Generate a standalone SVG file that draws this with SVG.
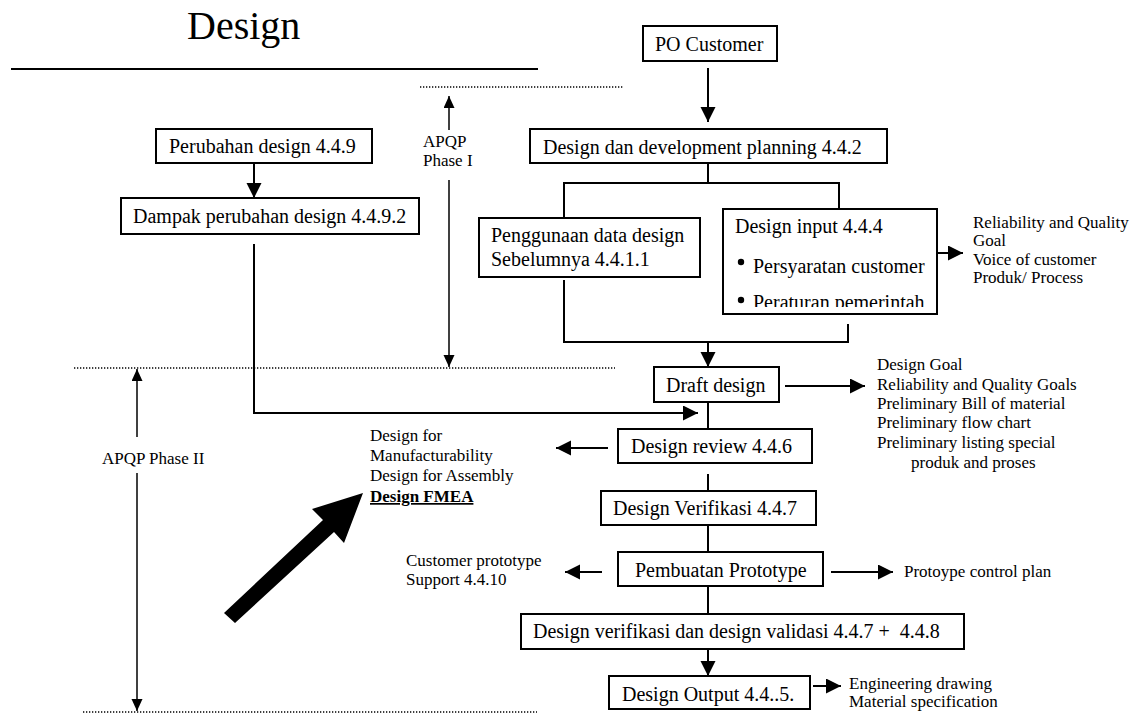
<svg xmlns="http://www.w3.org/2000/svg" width="1140" height="713" viewBox="0 0 1140 713">
  <style>
    .box { fill: #fff; stroke: #000; stroke-width: 2; }
    .t { font-family: "Liberation Serif", "Times New Roman", serif; font-size: 20px; fill: #000; }
    .s { font-family: "Liberation Serif", "Times New Roman", serif; font-size: 17px; fill: #000; }
    .ln { fill: none; stroke: #000; stroke-width: 2; }
    .thin { fill: none; stroke: #000; stroke-width: 1.5; }
    .dot { fill: none; stroke: #000; stroke-width: 1.3; stroke-dasharray: 1.3 1.7; }
  </style>
  <defs>
    <marker id="ah" markerUnits="userSpaceOnUse" markerWidth="16" markerHeight="16" refX="15" refY="7.5" orient="auto">
      <path d="M0,0 L15,7.5 L0,15 z" fill="#000"/>
    </marker>
    <marker id="ahs" markerUnits="userSpaceOnUse" markerWidth="13" markerHeight="12" refX="12" refY="5.5" orient="auto">
      <path d="M0,0 L12,5.5 L0,11 z" fill="#000"/>
    </marker>
    <clipPath id="inputClip">
      <rect x="724" y="210" width="212" height="97"/>
    </clipPath>
  </defs>

  <!-- title -->
  <g id="title">
    <text x="187" y="39" font-family="Liberation Serif, serif" font-size="40">Design</text>
    <line x1="11" y1="69" x2="538" y2="69" stroke="#000" stroke-width="2"/>
  </g>

  <!-- phase boundaries and phase markers -->
  <g id="phases">
    <line class="dot" x1="420" y1="87" x2="623" y2="87"/>
    <line class="dot" x1="74" y1="368" x2="615" y2="368"/>
    <line class="dot" x1="83" y1="712" x2="537" y2="712"/>
    <line class="thin" x1="449" y1="130" x2="449" y2="96" marker-end="url(#ahs)"/>
    <text class="s" x="423" y="147">APQP</text>
    <text class="s" x="423" y="166">Phase I</text>
    <line class="thin" x1="449" y1="180" x2="449" y2="367" marker-end="url(#ahs)"/>
    <line class="thin" x1="137" y1="437" x2="137" y2="369" marker-end="url(#ahs)"/>
    <text class="s" x="102" y="464">APQP Phase II</text>
    <line class="thin" x1="137" y1="473" x2="137" y2="711" marker-end="url(#ahs)"/>
  </g>

  <!-- connectors -->
  <g id="connectors">
    <line class="ln" x1="708" y1="68" x2="708" y2="122" marker-end="url(#ah)"/>
    <polyline class="ln" points="708,163 708,183"/>
    <polyline class="ln" points="564,218 564,183 839,183 839,209"/>
    <line class="ln" x1="254" y1="163" x2="254" y2="198" marker-end="url(#ah)"/>
    <polyline class="ln" points="254,244 254,413 698,413" marker-end="url(#ah)"/>
    <polyline class="ln" points="564,280 564,342 848,342 848,324"/>
    <line class="ln" x1="708" y1="342" x2="708" y2="367" marker-end="url(#ah)"/>
    <line class="ln" x1="937" y1="253" x2="963" y2="253" marker-end="url(#ah)"/>
    <line class="ln" x1="785" y1="386" x2="865" y2="386" marker-end="url(#ah)"/>
    <line class="ln" x1="708" y1="402" x2="708" y2="429"/>
    <line class="ln" x1="608" y1="448" x2="556" y2="448" marker-end="url(#ah)"/>
    <line class="ln" x1="708" y1="474" x2="708" y2="491"/>
    <line class="ln" x1="708" y1="525" x2="708" y2="552"/>
    <line class="ln" x1="602" y1="572" x2="565" y2="572" marker-end="url(#ah)"/>
    <line class="ln" x1="831" y1="572" x2="893" y2="572" marker-end="url(#ah)"/>
    <line class="ln" x1="708" y1="586" x2="708" y2="614"/>
    <line class="ln" x1="708" y1="649" x2="708" y2="676" marker-end="url(#ah)"/>
    <line class="ln" x1="813" y1="686" x2="841" y2="686" marker-end="url(#ah)"/>
    <!-- block arrow pointing at the FMEA note -->
    <polygon points="224,613 323,520 312,509 363,493 344,543 334,532 235,623" fill="#000"/>
  </g>

  <!-- nodes -->
  <g id="po-customer">
    <rect class="box" x="643" y="26" width="134" height="35"/>
    <text class="t" x="655" y="51">PO Customer</text>
  </g>
  <g id="planning">
    <rect class="box" x="530" y="129" width="357" height="34"/>
    <text class="t" x="543" y="154">Design dan development planning 4.4.2</text>
  </g>
  <g id="perubahan">
    <rect class="box" x="156" y="129" width="216" height="34"/>
    <text class="t" x="169" y="153">Perubahan design 4.4.9</text>
  </g>
  <g id="dampak">
    <rect class="box" x="121" y="198" width="298" height="36"/>
    <text class="t" x="133" y="223">Dampak perubahan design 4.4.9.2</text>
  </g>
  <g id="penggunaan">
    <rect class="box" x="479" y="218" width="221" height="59"/>
    <text class="t" x="491" y="242">Penggunaan data design</text>
    <text class="t" x="491" y="266">Sebelumnya 4.4.1.1</text>
  </g>
  <g id="design-input">
    <rect class="box" x="723" y="209" width="214" height="105"/>
    <text class="t" x="735" y="233">Design input 4.4.4</text>
    <circle cx="741" cy="262" r="3.2" fill="#000"/>
    <text class="t" x="753" y="273">Persyaratan customer</text>
    <circle cx="741" cy="300" r="3.2" fill="#000"/>
    <text class="t" x="753" y="309" clip-path="url(#inputClip)">Peraturan pemerintah</text>
  </g>
  <g id="input-notes">
    <text class="s" x="973" y="228">Reliability and Quality</text>
    <text class="s" x="973" y="246">Goal</text>
    <text class="s" x="973" y="265">Voice of customer</text>
    <text class="s" x="973" y="283">Produk/ Process</text>
  </g>
  <g id="draft">
    <rect class="box" x="654" y="367" width="125" height="35"/>
    <text class="t" x="666" y="392">Draft design</text>
  </g>
  <g id="draft-notes">
    <text class="s" x="877" y="370">Design Goal</text>
    <text class="s" x="877" y="390">Reliability and Quality Goals</text>
    <text class="s" x="877" y="409">Preliminary Bill of material</text>
    <text class="s" x="877" y="428">Preliminary flow chart</text>
    <text class="s" x="877" y="448">Preliminary listing special</text>
    <text class="s" x="911" y="468">produk and proses</text>
  </g>
  <g id="review">
    <rect class="box" x="618" y="429" width="194" height="34"/>
    <text class="t" x="631" y="453">Design review 4.4.6</text>
  </g>
  <g id="review-notes">
    <text class="s" x="370" y="441">Design for</text>
    <text class="s" x="370" y="461">Manufacturability</text>
    <text class="s" x="370" y="481">Design for Assembly</text>
    <text class="s" x="370" y="502" font-weight="bold" text-decoration="underline">Design FMEA</text>
  </g>
  <g id="verifikasi">
    <rect class="box" x="601" y="491" width="215" height="34"/>
    <text class="t" x="613" y="515">Design Verifikasi 4.4.7</text>
  </g>
  <g id="prototype">
    <rect class="box" x="618" y="552" width="205" height="34"/>
    <text class="t" x="635" y="577">Pembuatan Prototype</text>
  </g>
  <g id="prototype-notes">
    <text class="s" x="406" y="566">Customer prototype</text>
    <text class="s" x="406" y="585">Support 4.4.10</text>
    <text class="s" x="904" y="577">Protoype control plan</text>
  </g>
  <g id="validasi">
    <rect class="box" x="521" y="614" width="443" height="35"/>
    <text class="t" x="533" y="638" xml:space="preserve">Design verifikasi dan design validasi 4.4.7 +  4.4.8</text>
  </g>
  <g id="output">
    <rect class="box" x="609" y="676" width="201" height="33"/>
    <text class="t" x="622" y="701">Design Output 4.4..5.</text>
  </g>
  <g id="output-notes">
    <text class="s" x="849" y="689">Engineering drawing</text>
    <text class="s" x="849" y="707">Material specification</text>
  </g>
</svg>
